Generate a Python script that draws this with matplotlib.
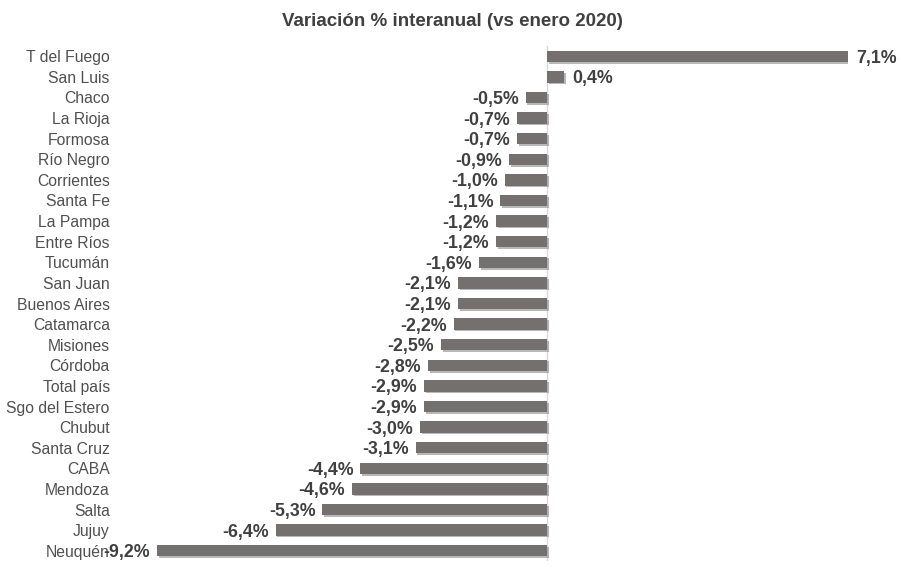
import matplotlib.pyplot as plt
import matplotlib.patheffects as pe

provincias = ["T del Fuego", "San Luis", "Chaco", "La Rioja", "Formosa",
              "Río Negro", "Corrientes", "Santa Fe", "La Pampa", "Entre Ríos",
              "Tucumán", "San Juan", "Buenos Aires", "Catamarca", "Misiones",
              "Córdoba", "Total país", "Sgo del Estero", "Chubut", "Santa Cruz",
              "CABA", "Mendoza", "Salta", "Jujuy", "Neuquén"]
variacion = [7.1, 0.4, -0.5, -0.7, -0.7, -0.9, -1.0, -1.1, -1.2, -1.2,
             -1.6, -2.1, -2.1, -2.2, -2.5, -2.8, -2.9, -2.9, -3.0, -3.1,
             -4.4, -4.6, -5.3, -6.4, -9.2]

plt.rcParams["font.family"] = ["Liberation Sans", "DejaVu Sans"]

fig = plt.figure(figsize=(9.01, 5.79), dpi=100)
ax = fig.add_axes([157 / 901, 1 - 561 / 579, (848 - 157) / 901, (561 - 46) / 579])

pos = list(range(len(provincias)))
bars = ax.barh(pos, variacion, height=0.55, color="#747070")
shadow = [pe.SimplePatchShadow(offset=(1.2, -1.2), shadow_rgbFace="#9a9a9a", alpha=0.7),
          pe.Normal()]
for b in bars:
    b.set_path_effects(shadow)

ax.set_xlim(-9.2, 7.1)
ax.set_ylim(len(provincias) - 0.5, -0.5)
ax.axvline(0, color="#d9d9d9", lw=1, zorder=0)

ax.set_yticks(pos)
ax.set_yticklabels(provincias, fontsize=11.3, color="#505050")
ax.tick_params(axis="y", length=0, pad=34)
ax.set_xticks([])
for s in ax.spines.values():
    s.set_visible(False)

for y, v in zip(pos, variacion):
    txt = f"{v:.1f}%".replace(".", ",")
    if v >= 0:
        ax.annotate(txt, (v, y), xytext=(6, 0), textcoords="offset points",
                    ha="left", va="center_baseline", fontsize=12.8, fontweight="bold",
                    color="#404040", annotation_clip=False)
    else:
        ax.annotate(txt, (v, y), xytext=(-5, 0), textcoords="offset points",
                    ha="right", va="center_baseline", fontsize=12.8, fontweight="bold",
                    color="#404040", annotation_clip=False)

fig.text(452 / 901, 1 - 22 / 579, "Variación % interanual (vs enero 2020)",
         ha="center", va="center", fontsize=13.5, fontweight="bold", color="#404040")

fig.savefig("out.png", dpi=100)
